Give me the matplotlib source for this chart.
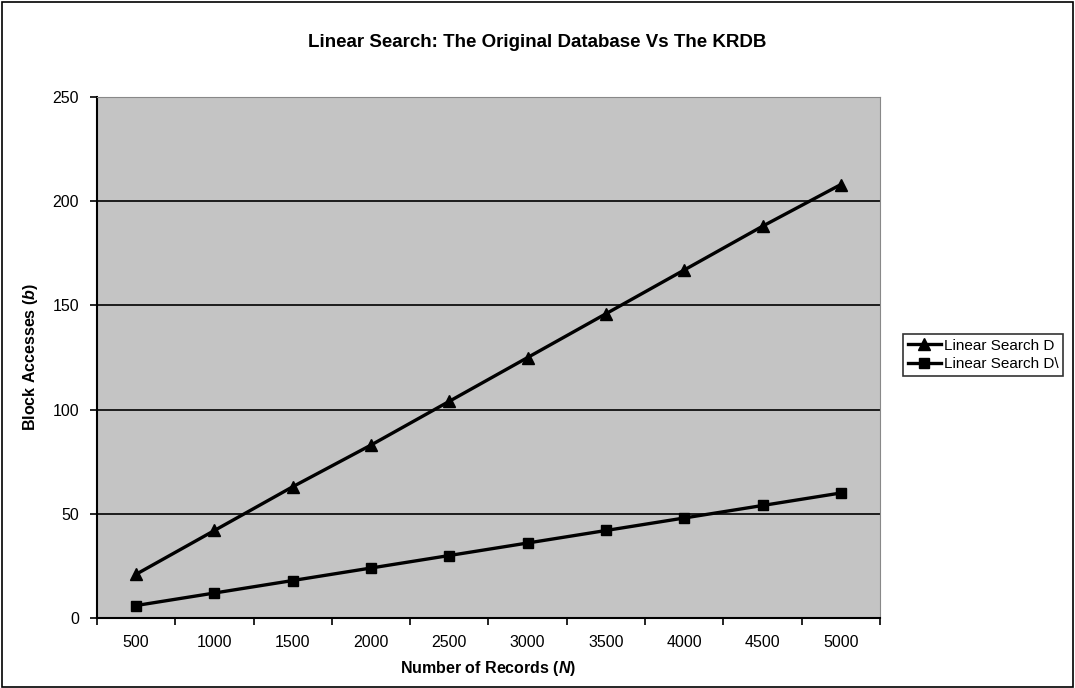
#!/usr/bin/env python3
"""Linear search block accesses: original database vs KRDB."""

import matplotlib
matplotlib.use("Agg")
import matplotlib.pyplot as plt
from matplotlib.patches import Rectangle

plt.rcParams["font.family"] = ["Liberation Sans", "DejaVu Sans"]
plt.rcParams["mathtext.fontset"] = "custom"
plt.rcParams["mathtext.it"] = "Liberation Sans:italic:bold"
plt.rcParams["mathtext.rm"] = "Liberation Sans:bold"

records = ["500", "1000", "1500", "2000", "2500", "3000", "3500", "4000", "4500", "5000"]
search_orig = [21, 42, 63, 83, 104, 125, 146, 167, 188, 208]
search_krdb = [6, 12, 18, 24, 30, 36, 42, 48, 54, 60]
labels = ["Linear Search D", "Linear Search D\\"]
yticks = [0, 50, 100, 150, 200, 250]

fig = plt.figure(figsize=(10.75, 6.88), dpi=100)
ax = fig.add_axes([0.0902, 0.1017, 0.7284, 0.7573])
ax.set_facecolor("#c4c4c4")

x = list(range(len(records)))
ax.plot(x, search_orig, color="black", lw=2.4, marker="^", ms=9, label=labels[0])
ax.plot(x, search_krdb, color="black", lw=2.4, marker="s", ms=7.5, label=labels[1])

ax.set_xlim(-0.5, len(records) - 0.5)
ax.set_ylim(0, 250)
ax.set_yticks(yticks)
ax.yaxis.grid(True, color="black", lw=1.2)
ax.set_axisbelow(True)

ax.set_xticks(x)
ax.set_xticklabels(records)
ax.set_xticks([i - 0.5 for i in range(len(records) + 1)], minor=True)
ax.tick_params(axis="x", which="major", length=0, pad=12, labelsize=11.5)
ax.tick_params(axis="x", which="minor", length=5, width=1.2, direction="out")
ax.tick_params(axis="y", length=5, width=1.2, pad=8, labelsize=11.5)

for side in ["left", "bottom"]:
    ax.spines[side].set_linewidth(1.5)
for side in ["top", "right"]:
    ax.spines[side].set_color("#888888")
    ax.spines[side].set_linewidth(0.8)

ax.set_xlabel(r"Number of Records ($\mathit{N}$)", fontsize=11.5,
              fontweight="bold", labelpad=7)
ax.set_ylabel(r"Block Accesses ($\mathit{b}$)", fontsize=11.5,
              fontweight="bold", labelpad=9)
fig.text(0.5, 0.938, "Linear Search: The Original Database Vs The KRDB",
         ha="center", va="center", fontsize=13.5, fontweight="bold")

leg = fig.legend(loc="center left", bbox_to_anchor=(0.84, 0.484),
                 frameon=True, fancybox=False, edgecolor="black",
                 fontsize=11, handlelength=2.2, handletextpad=0.2,
                 borderpad=0.3, labelspacing=0.3, borderaxespad=0)
leg.get_frame().set_linewidth(1.2)

fig.add_artist(Rectangle((0.002, 0.002), 0.996, 0.995, transform=fig.transFigure,
                         fill=False, edgecolor="black", lw=1.2))

fig.savefig("out.png", dpi=100)
